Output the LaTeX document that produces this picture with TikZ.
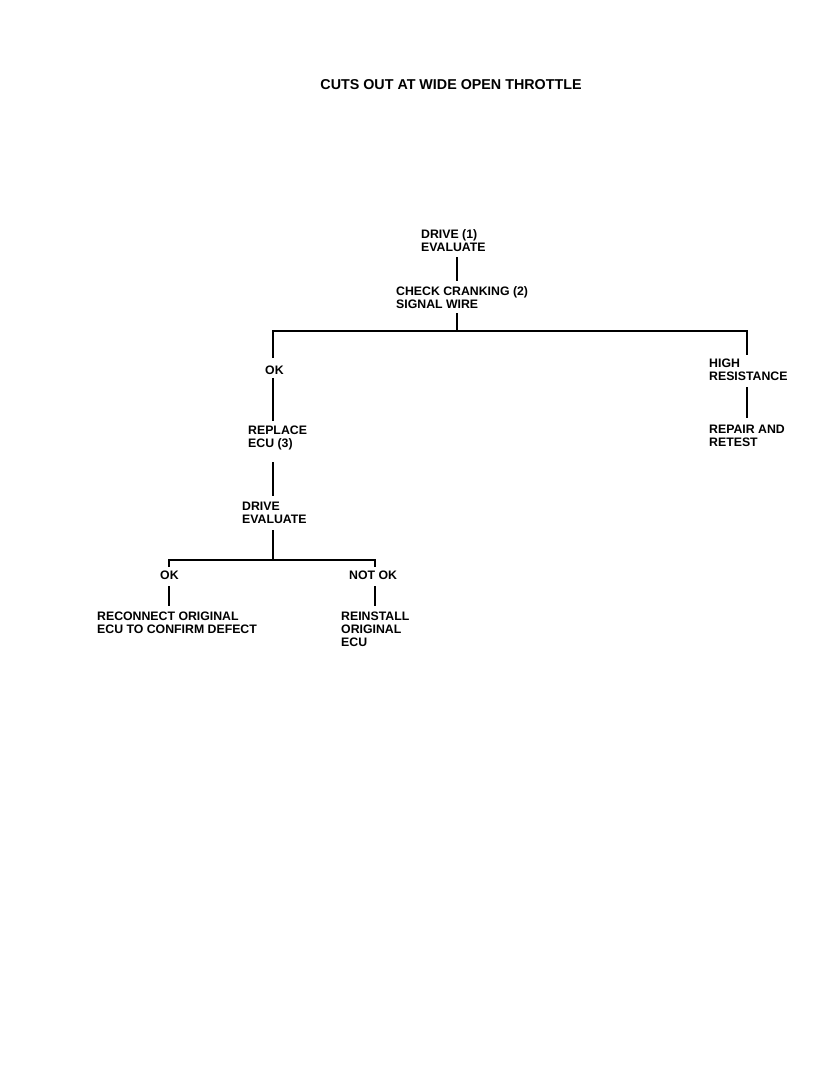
\documentclass[tikz,border=0pt]{standalone}
\usepackage{fontspec}
\setmainfont{Liberation Sans}
\begin{document}
\begin{tikzpicture}[x=1pt,y=-1pt,
  lbl/.style={anchor=north west,inner sep=0pt,align=left,font=\bfseries\fontsize{12.3}{13}\selectfont},
  ttl/.style={inner sep=0pt,font=\bfseries\fontsize{14.3}{16}\selectfont},
  conn/.style={line width=2.8pt,line cap=butt,line join=miter}]
\useasboundingbox[fill=white] (0,0) rectangle (834,1088);
% title
\node[ttl] (title) at (451,85) {CUTS OUT AT WIDE OPEN THROTTLE};
% labels
\node[lbl] (d1) at (421,229) {DRIVE (1)\\EVALUATE};
\node[lbl] (c2) at (396,286) {CHECK CRANKING (2)\\SIGNAL WIRE};
\node[lbl] (ok1) at (265,366) {OK};
\node[lbl] (rep) at (248,426) {REPLACE\\ECU (3)};
\node[lbl] (d2) at (242,502) {DRIVE\\EVALUATE};
\node[lbl] (ok2) at (160,571) {OK};
\node[lbl] (notok) at (349,571) {NOT OK};
\node[lbl] (recon) at (97,612) {RECONNECT ORIGINAL\\ECU TO CONFIRM DEFECT};
\node[lbl] (reinst) at (341,612) {REINSTALL\\ORIGINAL\\ECU};
\node[lbl] (high) at (709,359) {HIGH\\RESISTANCE};
\node[lbl] (repair) at (709,425) {REPAIR AND\\RETEST};
% junction coordinates
\coordinate (a1) at (457,257); \coordinate (a2) at (457,281);
\coordinate (b1) at (457,313); \coordinate (bj) at (457,331);
\coordinate (lj) at (273,331); \coordinate (rj) at (747,331);
\coordinate (l1) at (273,358); \coordinate (r1) at (747,355);
\coordinate (l2) at (273,378); \coordinate (l3) at (273,421);
\coordinate (l4) at (273,462); \coordinate (l5) at (273,496);
\coordinate (l6) at (273,530); \coordinate (l7) at (273,560);
\coordinate (sl) at (169,560); \coordinate (sr) at (375,560);
\coordinate (sl1) at (169,567); \coordinate (sr1) at (375,567);
\coordinate (sl2) at (169,586); \coordinate (sl3) at (169,606);
\coordinate (sr2) at (375,586); \coordinate (sr3) at (375,606);
\coordinate (r2) at (747,387); \coordinate (r3) at (747,418);
% connectors
\draw[conn] (a1) -- (a2);
\draw[conn] (b1) -- (bj);
\draw[conn] (l1) -- (lj) -- (rj) -- (r1);
\draw[conn] (l2) -- (l3);
\draw[conn] (l4) -- (l5);
\draw[conn] (l6) -- (l7);
\draw[conn] (sl1) -- (sl) -- (sr) -- (sr1);
\draw[conn] (sl2) -- (sl3);
\draw[conn] (sr2) -- (sr3);
\draw[conn] (r2) -- (r3);
\end{tikzpicture}
\end{document}
